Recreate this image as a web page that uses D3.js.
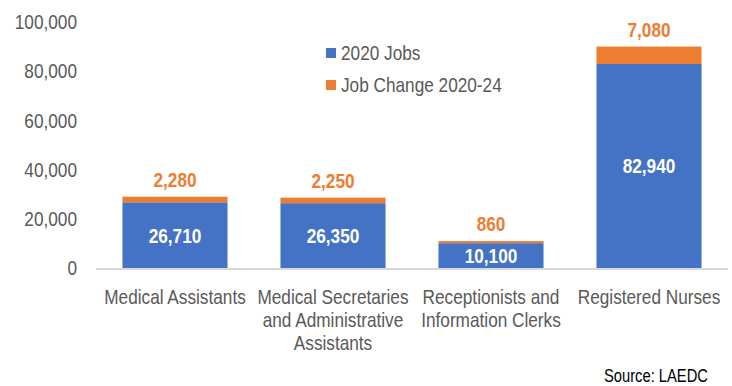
<!DOCTYPE html>
<html>
<head>
<meta charset="utf-8">
<script src="https://cdn.jsdelivr.net/npm/d3@7"></script>
<style>
  html, body { margin: 0; padding: 0; background: #fff; }
  svg { display: block; }
  text { font-family: "Liberation Sans", Arial, sans-serif; }
</style>
</head>
<body>
<svg id="chart" width="732" height="386"></svg>
<script>
const categories = [
  ["Medical Assistants"],
  ["Medical Secretaries", "and Administrative", "Assistants"],
  ["Receptionists and", "Information Clerks"],
  ["Registered Nurses"]
];
const jobs2020 = [26710, 26350, 10100, 82940];
const jobChange = [2280, 2250, 860, 7080];
const yTicks = [0, 20000, 40000, 60000, 80000, 100000];
const seriesNames = ["2020 Jobs", "Job Change 2020-24"];

const BLUE = "#4472C4", ORANGE = "#ED7D31", GRAY = "#595959";
const SX = 0.82; // no narrow font installed, squeeze Liberation Sans instead

const svg = d3.select("#chart");
const fmt = d3.format(",");

// place text at (px,py) with a horizontal squeeze
const at = (px, py) => `translate(${px},${py}) scale(${SX},1)`;

const x = d3.scaleBand().domain(d3.range(categories.length))
  .range([96, 728]).paddingInner(0.335).paddingOuter(0.1675);
const y = d3.scaleLinear().domain([0, 100000]).range([268, 22]);
const cx = i => x(i) + x.bandwidth() / 2;

// y axis labels
const yAxis = svg.append("g").attr("transform", "translate(77,0)")
  .call(d3.axisLeft(y).tickValues(yTicks).tickSize(0).tickPadding(0).tickFormat(fmt));
yAxis.select(".domain").remove();
yAxis.selectAll("text")
  .attr("x", null).attr("transform", `scale(${SX},1)`)
  .attr("fill", GRAY).style("font-size", "21px")
  .style("font-family", null);
yAxis.attr("font-family", null).attr("font-size", null);

// stacked bars
const rows = jobs2020.map((v, i) => ({ i, base: v, change: jobChange[i] }));

svg.append("g").selectAll("rect").data(rows).join("rect")
  .attr("x", d => x(d.i)).attr("width", x.bandwidth())
  .attr("y", d => y(d.base)).attr("height", d => y(0) - y(d.base))
  .attr("fill", BLUE);

svg.append("g").selectAll("rect").data(rows).join("rect")
  .attr("x", d => x(d.i)).attr("width", x.bandwidth())
  .attr("y", d => y(d.base + d.change)).attr("height", d => y(d.base) - y(d.base + d.change))
  .attr("fill", ORANGE);

// baseline
svg.append("line")
  .attr("x1", 96).attr("x2", 728).attr("y1", y(0) + 1).attr("y2", y(0) + 1)
  .attr("stroke", "#D9D9D9").attr("stroke-width", 2);

// value labels
svg.append("g").selectAll("text").data(rows).join("text")
  .attr("transform", d => at(cx(d.i), (y(0) + y(d.base)) / 2))
  .attr("dy", "0.35em").attr("text-anchor", "middle")
  .attr("fill", "#fff").style("font-size", "21px").style("font-weight", "bold")
  .text(d => fmt(d.base));

svg.append("g").selectAll("text").data(rows).join("text")
  .attr("transform", d => at(cx(d.i), y(d.base + d.change) - 17))
  .attr("dy", "0.35em").attr("text-anchor", "middle")
  .attr("fill", ORANGE).style("font-size", "21px").style("font-weight", "bold")
  .text(d => fmt(d.change));

// category labels
const cat = svg.append("g").selectAll("text").data(categories).join("text")
  .attr("text-anchor", "middle")
  .attr("fill", GRAY).style("font-size", "21px")
  .attr("transform", (d, i) => at(cx(i), 297));
cat.selectAll("tspan").data(d => d).join("tspan")
  .attr("x", 0).attr("y", (d, j) => j * 23).attr("dy", "0.35em")
  .text(d => d);

// legend
const legend = svg.append("g").selectAll("g").data(seriesNames).join("g")
  .attr("transform", (d, i) => `translate(326,${53 + i * 32})`);
legend.append("rect").attr("x", 0).attr("y", -5).attr("width", 10).attr("height", 10)
  .attr("fill", (d, i) => i ? ORANGE : BLUE);
legend.append("text").attr("transform", at(15, 0)).attr("dy", "0.35em")
  .attr("fill", GRAY).style("font-size", "21px").text(d => d);

// source
svg.append("text").attr("transform", at(708, 376)).attr("dy", "0.35em")
  .attr("text-anchor", "end").attr("fill", "#000").style("font-size", "18px")
  .text("Source: LAEDC");
</script>
</body>
</html>
